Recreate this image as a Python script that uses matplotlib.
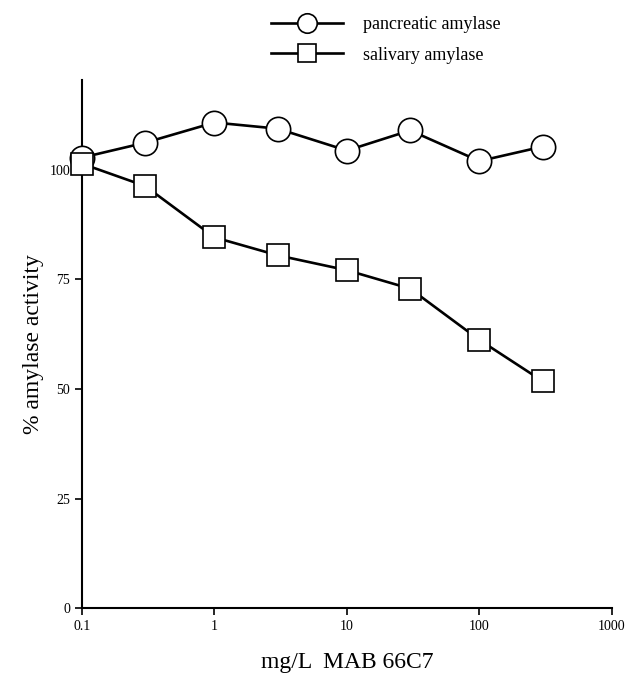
import matplotlib.pyplot as plt
import numpy as np

plt.rcParams['font.family'] = ['Liberation Serif', 'DejaVu Serif']

dose = [0.1, 0.3, 1, 3, 10, 30, 100, 300]
pancreatic = [102.8, 106.2, 110.8, 109.4, 104.4, 109.0, 102.0, 105.3]
salivary = [101.4, 96.3, 84.6, 80.5, 77.1, 72.9, 61.2, 51.8]

yticks = [0, 25, 50, 75, 100]
xticks = [0.1, 1, 10, 100, 1000]
xticklabels = ['0.1', '1', '10', '100', '1000']

fig = plt.figure(figsize=(6.36, 6.78), dpi=100)
ax = fig.add_axes([0.129, 0.103, 0.833, 0.779])

ax.plot(dose, pancreatic, '-o', color='black', lw=1.9, ms=17.5,
        mfc='white', mec='black', mew=1.2, clip_on=False, zorder=3,
        label='pancreatic amylase')
ax.plot(dose, salivary, '-s', color='black', lw=1.9, ms=16.5,
        mfc='white', mec='black', mew=1.2, clip_on=False, zorder=4,
        label='salivary amylase')

ax.set_xscale('log')
ax.set_xlim(0.1, 1000)
ax.set_ylim(0, 120.5)
ax.set_xticks(xticks)
ax.set_xticklabels(xticklabels)
ax.xaxis.set_minor_locator(plt.NullLocator())
ax.set_yticks(yticks)
ax.tick_params(labelsize=10, length=5, width=1.2, direction='out')

for s in ['top', 'right']:
    ax.spines[s].set_visible(False)
for s in ['left', 'bottom']:
    ax.spines[s].set_linewidth(1.5)

ax.set_xlabel('mg/L  MAB 66C7', fontsize=17, labelpad=14)
ax.set_ylabel('% amylase activity', fontsize=17, labelpad=4)

fig.legend(loc='upper left', bbox_to_anchor=(0.40, 1.0), frameon=False,
           fontsize=13, handlelength=4.0, handletextpad=1.1,
           labelspacing=0.75, markerscale=0.8)

fig.savefig('out.png', dpi=100)
